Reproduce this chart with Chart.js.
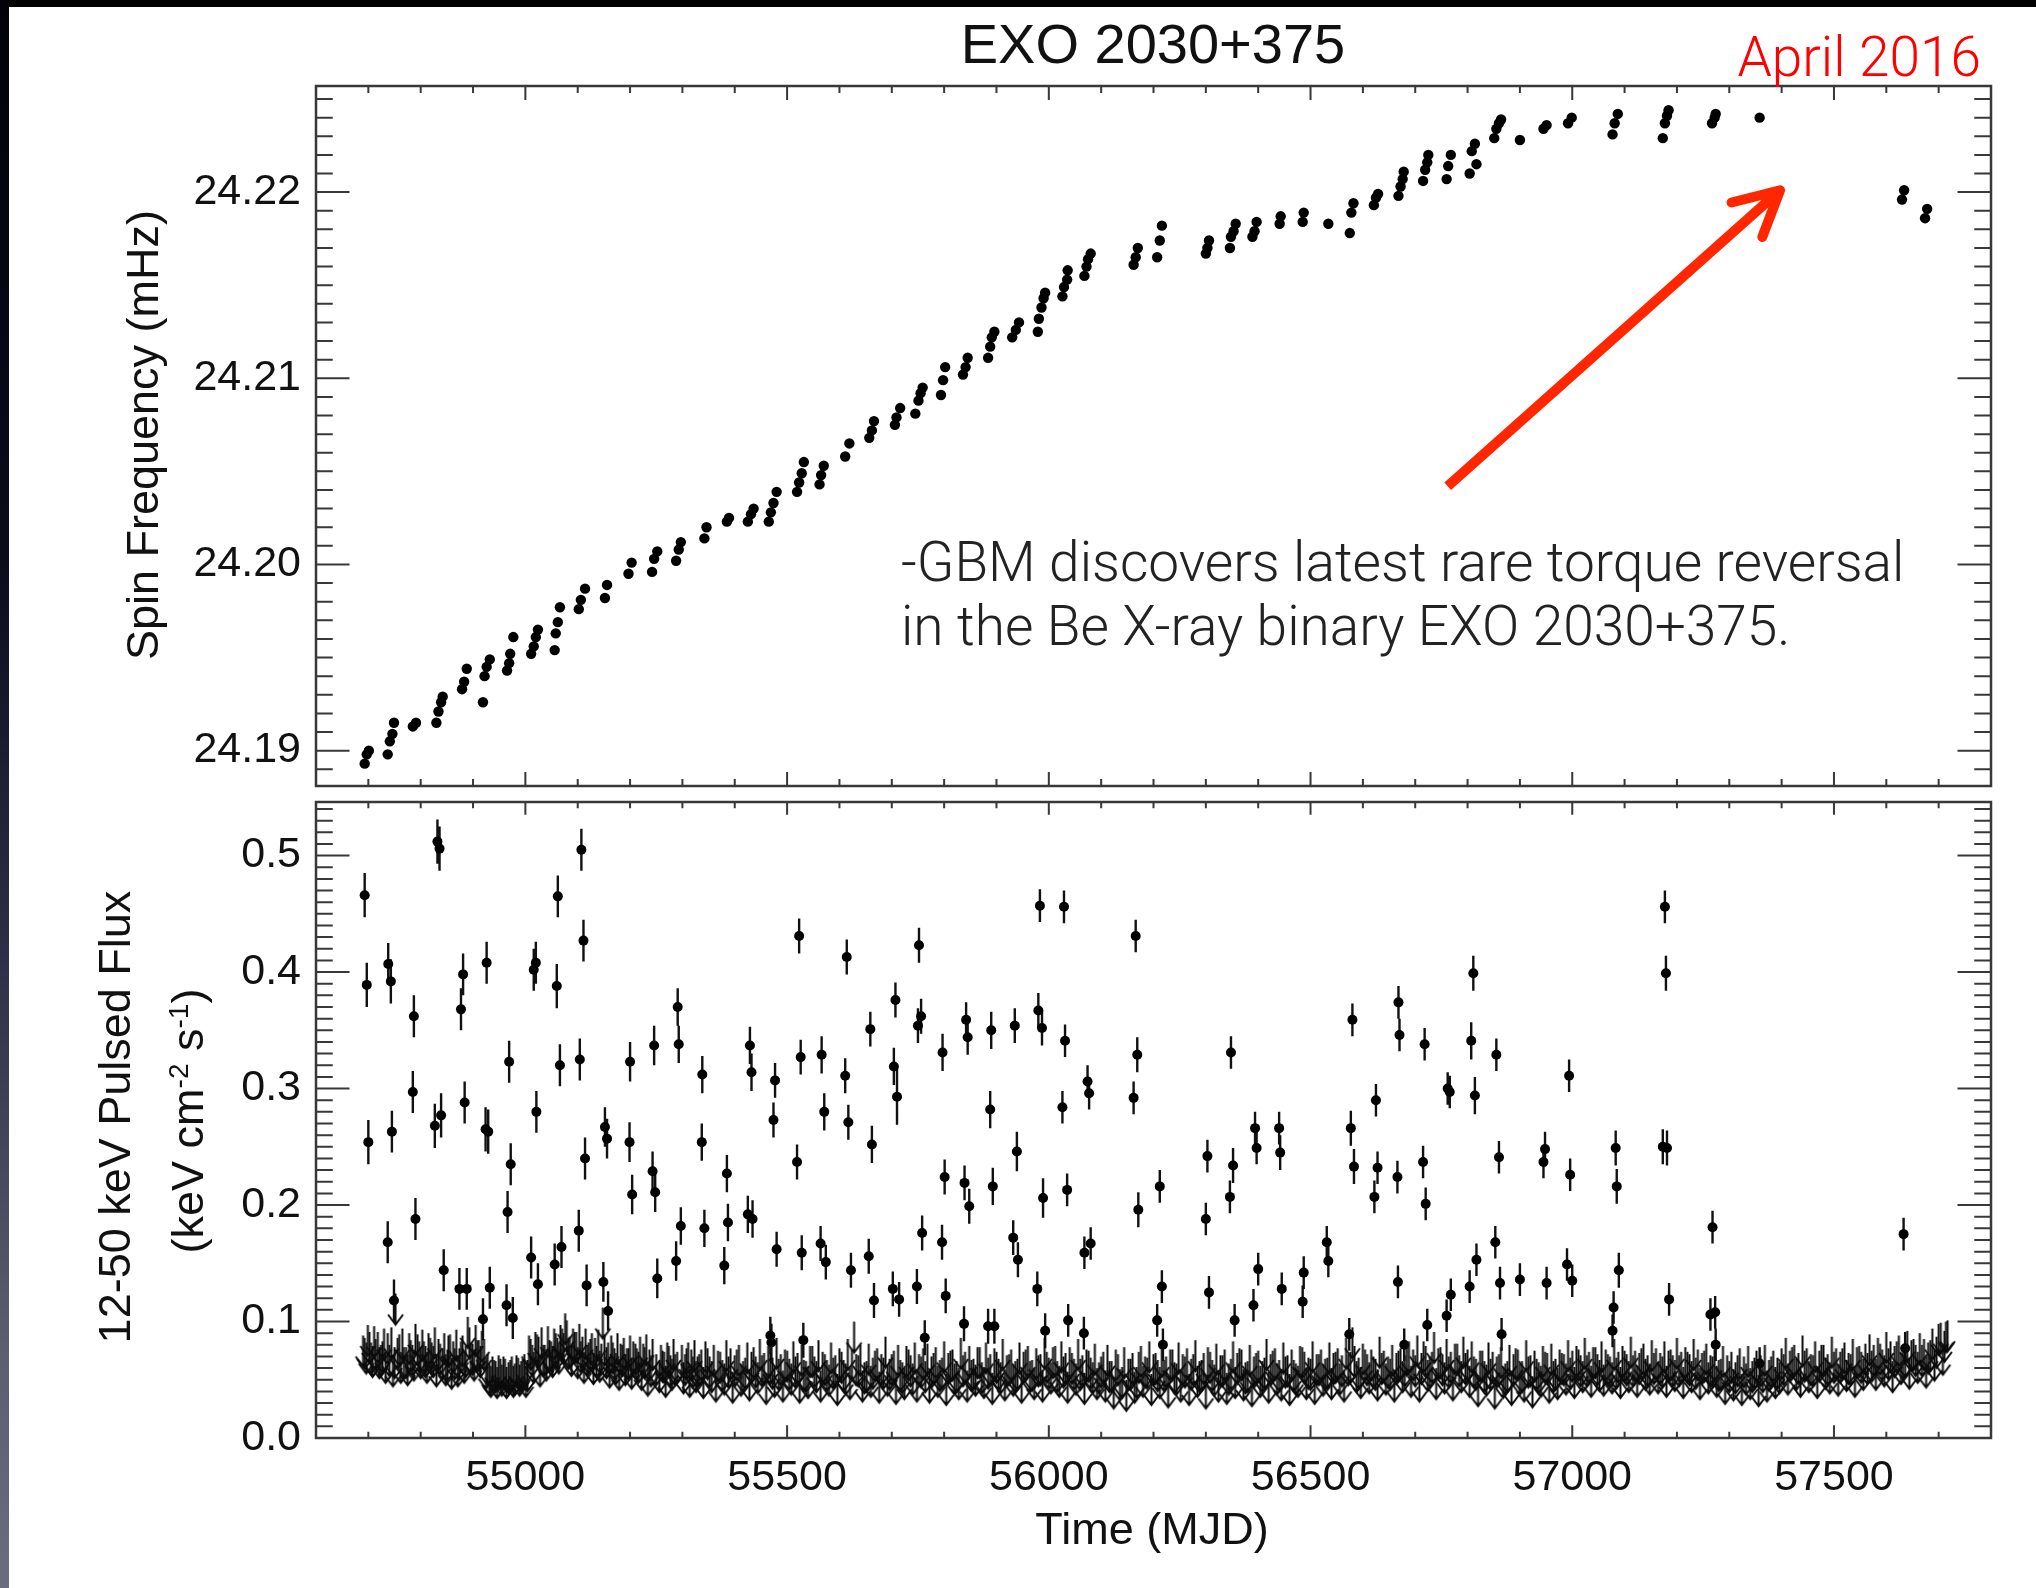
<!DOCTYPE html>
<html>
<head>
<meta charset="utf-8">
<script src="https://cdn.jsdelivr.net/npm/chart.js@4.4.0/dist/chart.umd.min.js"></script>
<style>
  html, body { margin: 0; padding: 0; }
  body { width: 2036px; height: 1588px; background: #000; position: relative; overflow: hidden; }
  #edge { position: absolute; left: 0; top: 0; width: 9px; height: 1588px;
          background: linear-gradient(to bottom, #020208 0%, #0b0b1c 35%, #2e2e48 60%, #5c5c72 85%, #6c6c80 100%); }
  #sheet { position: absolute; left: 9px; top: 7px; right: 0; bottom: 0; background: #fff; }
  canvas { position: absolute; left: 0; }
  #spin { top: 0; }
  #flux { top: 790px; }
  #labels { position: absolute; left: 0; top: 0; pointer-events: none; }
</style>
</head>
<body>
<div id="edge"></div>
<div id="sheet"></div>
<canvas id="spin" width="2036" height="800"></canvas>
<canvas id="flux" width="2036" height="798"></canvas>
<svg id="labels" width="2036" height="1588" font-family="'Liberation Sans', Arial, Helvetica, sans-serif">
  <text x="1153" y="63" font-size="56" text-anchor="middle" fill="#111">EXO 2030+375</text>
  <text x="1981" y="76" font-size="55" text-anchor="end" fill="#ff0000" font-family="Roboto, Lato, sans-serif" font-weight="300">April 2016</text>
  <text x="901" y="581" font-size="55" fill="#222" font-family="Roboto, Lato, sans-serif" font-weight="300">-GBM discovers latest rare torque reversal</text>
  <text x="901" y="645" font-size="55" fill="#222" font-family="Roboto, Lato, sans-serif" font-weight="300">in the Be X-ray binary EXO 2030+375.</text>
  <text transform="translate(158,435) rotate(-90)" font-size="45" text-anchor="middle" fill="#111">Spin Frequency (mHz)</text>
  <text transform="translate(130,1117) rotate(-90)" font-size="45" text-anchor="middle" fill="#111">12-50 keV Pulsed Flux</text>
  <text transform="translate(203,1121) rotate(-90)" font-size="45" text-anchor="middle" fill="#111">(keV cm<tspan baseline-shift="super" font-size="28">-2</tspan> s<tspan baseline-shift="super" font-size="28">-1</tspan>)</text>
  <text x="1152" y="1544" font-size="45" text-anchor="middle" fill="#111">Time (MJD)</text>
</svg>
<script>
// spin frequency history [MJD, mHz]
const spinPoints = [
  [54693,24.1893],[54697,24.1898],[54701,24.1900],
  [54737,24.1898],[54741,24.1905],[54746,24.1909],[54749,24.1915],
  [54785,24.1913],[54791,24.1915],
  [54830,24.1915],[54834,24.1921],[54839,24.1926],[54842,24.1929],
  [54879,24.1933],[54883,24.1937],[54888,24.1944],
  [54919,24.1926],[54922,24.1940],[54926,24.1945],[54932,24.1949],
  [54965,24.1943],[54969,24.1947],[54971,24.1952],[54977,24.1961],
  [55011,24.1952],[55016,24.1956],[55020,24.1961],[55024,24.1965],
  [55056,24.1954],[55058,24.1963],[55062,24.1969],[55066,24.1977],
  [55102,24.1976],[55106,24.1981],[55114,24.1987],
  [55152,24.1982],[55156,24.1989],
  [55197,24.1995],[55203,24.2001],
  [55242,24.1996],[55246,24.2003],[55252,24.2007],
  [55288,24.2002],[55293,24.2008],[55297,24.2012],
  [55342,24.2014],[55346,24.2020],
  [55385,24.2023],[55389,24.2025],
  [55425,24.2023],[55431,24.2027],[55436,24.2030],
  [55465,24.2023],[55469,24.2028],[55474,24.2033],[55480,24.2039],
  [55519,24.2039],[55523,24.2044],[55528,24.2049],[55532,24.2055],
  [55562,24.2043],[55565,24.2048],[55570,24.2053],
  [55611,24.2058],[55619,24.2065],
  [55657,24.2068],[55662,24.2072],[55666,24.2077],
  [55706,24.2075],[55709,24.2079],[55716,24.2084],
  [55745,24.2081],[55751,24.2088],[55755,24.2092],[55759,24.2095],
  [55794,24.2091],[55798,24.2099],[55802,24.2106],
  [55836,24.2102],[55841,24.2106],[55845,24.2111],
  [55884,24.2111],[55888,24.2117],[55891,24.2122],[55896,24.2125],
  [55930,24.2122],[55937,24.2126],[55943,24.2130],
  [55979,24.2125],[55981,24.2132],[55986,24.2138],[55990,24.2143],[55993,24.2146],
  [56026,24.2144],[56029,24.2149],[56035,24.2153],[56036,24.2158],
  [56068,24.2155],[56072,24.2160],[56075,24.2164],[56080,24.2167],
  [56162,24.2161],[56166,24.2165],[56170,24.2170],
  [56207,24.2165],[56212,24.2174],[56216,24.2182],
  [56300,24.2167],[56303,24.2170],[56306,24.2174],
  [56346,24.2170],[56348,24.2176],[56353,24.2179],[56357,24.2183],
  [56389,24.2176],[56393,24.2179],[56397,24.2184],
  [56441,24.2183],[56443,24.2187],
  [56485,24.2184],[56487,24.2189],
  [56534,24.2183],
  [56575,24.2178],[56578,24.2189],[56582,24.2194],
  [56621,24.2193],[56625,24.2197],[56629,24.2199],
  [56668,24.2198],[56672,24.2203],[56676,24.2207],[56678,24.2211],
  [56715,24.2206],[56719,24.2212],[56723,24.2216],[56725,24.2220],
  [56760,24.2207],[56763,24.2214],[56768,24.2220],
  [56804,24.2210],[56808,24.2222],[56814,24.2226],[56817,24.2215],
  [56851,24.2229],[56855,24.2234],[56860,24.2237],[56864,24.2239],
  [56900,24.2228],
  [56945,24.2234],[56951,24.2236],
  [56992,24.2237],[56999,24.2240],
  [57077,24.2231],[57081,24.2237],[57087,24.2242],
  [57173,24.2229],[57177,24.2237],[57181,24.2241],[57184,24.2244],
  [57267,24.2237],[57272,24.2240],[57274,24.2242],
  [57358,24.2240],
  [57630,24.2196],[57634,24.2201],
  [57674,24.2186],[57678,24.2191]
];

// pulsed flux detections [MJD, flux, 1-sigma error]
const fluxPoints = [
  [54693,0.466,0.019],[54697,0.389,0.019],[54700,0.254,0.019],
  [54737,0.168,0.018],[54738,0.407,0.018],[54743,0.392,0.019],[54745,0.263,0.018],[54749,0.118,0.018],
  [54785,0.297,0.018],[54787,0.362,0.018],[54790,0.188,0.018],
  [54827,0.268,0.019],[54832,0.512,0.019],[54836,0.506,0.019],[54839,0.277,0.019],[54844,0.144,0.018],
  [54874,0.128,0.018],[54877,0.368,0.018],[54881,0.398,0.018],[54884,0.288,0.018],[54888,0.128,0.018],
  [54919,0.102,0.018],[54924,0.265,0.019],[54926,0.408,0.018],[54929,0.263,0.019],[54932,0.129,0.018],
  [54964,0.114,0.018],[54966,0.194,0.018],[54969,0.323,0.018],[54972,0.235,0.018],[54976,0.103,0.018],
  [55011,0.155,0.018],[55016,0.402,0.018],[55020,0.408,0.018],[55021,0.280,0.018],[55024,0.132,0.018],
  [55056,0.149,0.018],[55060,0.388,0.019],[55062,0.465,0.018],[55066,0.320,0.018],[55069,0.164,0.018],
  [55102,0.178,0.018],[55104,0.325,0.018],[55107,0.505,0.018],[55111,0.427,0.018],[55114,0.240,0.018],[55117,0.131,0.018],
  [55149,0.134,0.017],[55152,0.267,0.017],[55156,0.257,0.017],[55158,0.109,0.017],
  [55199,0.254,0.017],[55200,0.323,0.017],[55204,0.209,0.017],
  [55243,0.229,0.017],[55246,0.337,0.017],[55248,0.211,0.017],[55252,0.137,0.017],
  [55288,0.152,0.017],[55291,0.370,0.016],[55293,0.338,0.016],[55297,0.182,0.016],
  [55337,0.254,0.016],[55338,0.312,0.016],[55342,0.180,0.016],
  [55380,0.148,0.016],[55385,0.227,0.016],[55387,0.185,0.016],
  [55425,0.192,0.016],[55429,0.337,0.016],[55432,0.314,0.016],[55434,0.188,0.016],
  [55468,0.088,0.016],[55470,0.082,0.016],[55474,0.273,0.015],[55477,0.307,0.015],[55480,0.162,0.015],
  [55519,0.237,0.015],[55523,0.431,0.015],[55526,0.327,0.015],[55528,0.159,0.015],[55531,0.084,0.015],
  [55564,0.167,0.015],[55566,0.329,0.016],[55571,0.280,0.016],[55574,0.151,0.015],
  [55611,0.311,0.015],[55614,0.413,0.015],[55617,0.271,0.015],[55622,0.144,0.015],
  [55656,0.156,0.015],[55659,0.351,0.015],[55662,0.252,0.016],[55666,0.118,0.015],
  [55702,0.128,0.015],[55704,0.319,0.016],[55707,0.376,0.015],[55710,0.293,0.024],[55714,0.119,0.015],
  [55748,0.130,0.015],[55750,0.354,0.015],[55752,0.423,0.015],[55756,0.362,0.015],[55758,0.176,0.015],[55763,0.086,0.015],
  [55796,0.168,0.015],[55797,0.331,0.016],[55801,0.224,0.015],[55803,0.122,0.015],
  [55838,0.098,0.015],[55839,0.219,0.015],[55842,0.359,0.015],[55845,0.344,0.015],[55848,0.199,0.015],
  [55884,0.096,0.015],[55888,0.282,0.016],[55890,0.350,0.016],[55893,0.216,0.016],[55896,0.096,0.015],
  [55932,0.172,0.015],[55935,0.354,0.015],[55939,0.246,0.017],[55941,0.153,0.015],
  [55978,0.128,0.015],[55980,0.367,0.015],[55983,0.457,0.014],[55987,0.352,0.015],[55989,0.206,0.017],[55993,0.092,0.015],
  [56026,0.284,0.014],[56029,0.456,0.014],[56031,0.341,0.014],[56035,0.213,0.014],[56037,0.101,0.014],
  [56067,0.090,0.014],[56068,0.159,0.014],[56074,0.306,0.014],[56077,0.296,0.014],[56080,0.167,0.014],
  [56162,0.292,0.014],[56166,0.431,0.014],[56169,0.329,0.015],[56171,0.196,0.015],
  [56207,0.101,0.014],[56212,0.216,0.014],[56216,0.130,0.014],[56218,0.080,0.014],
  [56300,0.188,0.014],[56303,0.242,0.014],[56306,0.125,0.014],
  [56346,0.207,0.014],[56348,0.331,0.014],[56352,0.234,0.015],[56355,0.101,0.014],
  [56391,0.114,0.014],[56394,0.266,0.014],[56397,0.249,0.014],[56400,0.145,0.014],
  [56440,0.266,0.014],[56442,0.245,0.015],[56445,0.128,0.014],
  [56485,0.117,0.014],[56487,0.142,0.014],
  [56531,0.168,0.014],[56534,0.152,0.014],
  [56574,0.089,0.014],[56577,0.266,0.015],[56580,0.359,0.014],[56583,0.233,0.015],
  [56622,0.207,0.014],[56625,0.290,0.014],[56628,0.232,0.014],
  [56666,0.224,0.014],[56667,0.134,0.014],[56668,0.374,0.014],[56670,0.346,0.014],[56679,0.080,0.014],
  [56715,0.237,0.014],[56718,0.338,0.014],[56720,0.201,0.014],[56723,0.097,0.014],
  [56760,0.105,0.014],[56762,0.300,0.014],[56766,0.297,0.014],[56768,0.123,0.014],
  [56804,0.130,0.014],[56807,0.341,0.016],[56811,0.399,0.015],[56814,0.294,0.016],[56817,0.153,0.014],
  [56853,0.168,0.014],[56855,0.329,0.014],[56860,0.241,0.014],[56862,0.133,0.014],[56865,0.089,0.014],
  [56900,0.136,0.014],
  [56945,0.237,0.014],[56948,0.248,0.015],[56951,0.133,0.014],
  [56990,0.149,0.014],[56994,0.311,0.014],[56996,0.226,0.014],[57000,0.135,0.014],
  [57077,0.092,0.014],[57079,0.112,0.014],[57083,0.249,0.015],[57085,0.216,0.015],[57089,0.144,0.015],
  [57173,0.250,0.015],[57177,0.456,0.014],[57179,0.399,0.015],[57181,0.249,0.015],[57185,0.119,0.014],
  [57264,0.106,0.014],[57268,0.181,0.014],[57273,0.108,0.014],[57274,0.080,0.014],
  [57358,0.064,0.014],
  [57633,0.175,0.014],[57636,0.077,0.014]
];

// 12-50 keV pulsed flux upper limits [MJD, limit]
const limitPoints = [
  [54690,.088],[54696,.082],[54702,.091],[54708,.079],[54714,.085],[54721,.078],[54727,.083],[54733,.074],
  [54740,.080],[54747,.071],[54752,.124],[54756,.086],[54762,.074],[54768,.078],[54775,.072],[54781,.084],[54787,.076],
  [54794,.089],[54800,.078],[54806,.083],[54812,.074],[54818,.086],[54824,.079],[54830,.071],[54837,.081],
  [54848,.072],[54853,.088],[54859,.069],[54865,.077],[54871,.071],[54877,.083],[54883,.074],[54890,.104],
  [54896,.082],[54902,.076],[54908,.084],[54914,.079],
  [54925,.069],[54931,.064],[54937,.070],[54943,.066],[54949,.071],[54955,.063],[54961,.068],[54968,.065],
  [54974,.070],[54980,.064],[54986,.069],[54992,.066],[54998,.072],[55004,.067],
  [55010,.085],[55016,.074],[55022,.089],[55028,.071],[55034,.080],[55040,.076],[55046,.084],
  [55052,.079],[55058,.090],[55064,.082],[55070,.094],[55076,.107],[55082,.086],[55088,.080],[55094,.091],[55100,.078],
  [55106,.083],[55112,.074],[55118,.080],[55124,.085],[55130,.073],[55136,.079],[55142,.075],[55148,.112],
  [55155,.078],[55161,.070],[55167,.082],[55173,.073],[55179,.068],[55185,.080],[55191,.072],[55197,.077],[55203,.069],
  [55210,.081],[55216,.074],[55222,.068],[55228,.078],[55234,.063],[55240,.071],[55256,.066],[55262,.075],
  [55268,.062],[55274,.079],[55280,.068],[55286,.072],[55302,.065],[55308,.077],[55314,.062],[55320,.070],[55326,.066],
  [55332,.072],[55340,.061],[55348,.077],[55356,.066],[55364,.058],[55372,.074],[55380,.064],[55388,.070],
  [55396,.057],[55404,.076],[55412,.063],[55420,.069],[55428,.059],[55436,.078],[55444,.065],[55452,.071],
  [55460,.056],[55468,.073],[55476,.062],[55484,.068],[55492,.058],[55500,.075],[55508,.064],[55516,.070],
  [55524,.057],[55532,.067],[55540,.061],[55548,.079],[55556,.066],[55564,.058],[55572,.072],[55580,.063],
  [55588,.069],[55596,.055],[55604,.074],[55612,.064],[55620,.060],[55628,.100],[55636,.071],[55644,.058],
  [55652,.066],[55660,.062],[55668,.075],[55676,.057],[55684,.069],[55692,.063],[55700,.072],[55708,.056],
  [55716,.067],[55724,.060],[55732,.076],[55740,.064],[55748,.058],[55756,.070],
  [55764,.066],[55772,.057],[55780,.073],[55788,.062],[55796,.069],[55804,.055],[55812,.075],[55820,.064],
  [55828,.060],[55836,.071],[55844,.058],[55852,.067],[55860,.063],[55868,.078],[55876,.061],[55884,.069],
  [55892,.056],[55900,.074],[55908,.065],[55916,.059],[55924,.072],[55932,.063],[55940,.068],[55948,.057],
  [55956,.076],[55964,.066],[55972,.060],[55980,.071],[55988,.058],[55996,.074],[56004,.065],[56012,.079],
  [56020,.062],[56028,.070],[56036,.057],[56044,.073],[56052,.064],[56060,.068],[56068,.056],[56076,.075],
  [56084,.065],[56092,.060],
  [56100,.070],[56108,.058],[56116,.066],[56124,.052],[56132,.072],[56140,.061],[56148,.050],[56156,.068],
  [56164,.057],[56172,.074],[56180,.062],
  [56188,.069],[56196,.055],[56204,.073],[56212,.061],[56220,.067],[56228,.053],[56236,.076],[56244,.064],
  [56252,.058],[56260,.070],[56268,.055],[56276,.072],[56284,.062],[56292,.067],[56300,.052],[56308,.074],
  [56316,.063],[56324,.058],[56332,.071],[56340,.056],[56348,.068],[56356,.061],[56364,.077],[56372,.059],
  [56380,.066],[56388,.054],[56396,.073],[56404,.062],[56412,.069],[56420,.057],[56428,.075],[56436,.064],
  [56444,.059],[56452,.070],[56460,.055],[56468,.067],[56476,.062],[56484,.078],[56492,.060],[56500,.068],
  [56508,.056],[56516,.072],[56524,.063],
  [56532,.069],[56540,.060],[56548,.074],[56556,.064],[56564,.058],[56572,.072],[56580,.095],[56588,.066],
  [56596,.061],[56604,.076],[56612,.065],[56620,.070],[56628,.059],[56636,.073],[56644,.064],[56652,.068],
  [56660,.058],[56668,.075],
  [56676,.066],[56684,.080],[56692,.062],[56700,.071],[56708,.058],[56716,.083],[56724,.067],[56732,.074],
  [56740,.060],[56748,.078],[56756,.065],[56764,.070],[56772,.059],[56780,.081],[56788,.066],[56796,.073],
  [56804,.062],[56812,.070],[56820,.054],[56828,.075],[56836,.063],[56844,.068],[56852,.052],[56860,.072],
  [56868,.061],[56876,.066],[56884,.055],[56892,.077],[56900,.064],[56908,.058],[56916,.070],[56924,.053],
  [56932,.068],[56940,.062],[56948,.074],[56956,.057],[56964,.066],[56972,.060],
  [56980,.073],[56988,.064],[56996,.069],[57004,.061],[57012,.076],[57020,.066],[57028,.071],[57036,.062],
  [57044,.078],[57052,.067],[57060,.063],[57068,.072],[57076,.065],[57084,.069],[57092,.061],[57100,.075],
  [57108,.066],[57116,.071],[57124,.062],[57132,.077],[57140,.068],[57148,.064],[57156,.073],[57164,.065],
  [57172,.070],[57180,.062],[57188,.076],[57196,.067],[57204,.071],[57212,.061],[57220,.074],[57228,.066],
  [57236,.069],[57244,.060],[57252,.075],[57260,.065],[57268,.070],
  [57276,.062],[57284,.068],[57292,.056],[57300,.066],[57308,.059],[57316,.071],[57324,.055],[57332,.064],
  [57340,.060],[57348,.069],[57356,.054],[57364,.066],[57372,.058],[57380,.070],[57388,.061],[57396,.065],
  [57404,.072],[57412,.064],[57420,.078],[57428,.068],[57436,.062],[57444,.075],[57452,.066],[57460,.071],
  [57468,.061],[57476,.080],[57484,.069],[57492,.065],[57500,.074],[57508,.063],[57516,.077],[57524,.067],
  [57532,.072],[57540,.062],[57548,.079],[57556,.068],[57564,.073],
  [57572,.075],[57580,.068],[57588,.081],[57596,.071],[57604,.077],[57612,.066],[57620,.083],[57628,.073],
  [57636,.079],[57644,.069],[57652,.085],[57660,.074],[57668,.080],[57676,.070],[57684,.084],[57692,.076],
  [57700,.098],[57708,.081],[57714,.100],
  // interleaved observations
  [54693,.086],[54699,.097],[54705,.082],[54711,.096],[54718,.091],[54724,.080],[54730,.094],[54737,.090],
  [54744,.095],[54750,.078],[54759,.089],[54765,.094],[54772,.078],[54778,.090],[54784,.080],[54790,.098],
  [54797,.083],[54803,.093],[54809,.079],[54815,.090],[54821,.082],[54827,.095],[54834,.085],[54842,.077],
  [54845,.090],[54851,.076],[54856,.089],[54862,.083],[54868,.093],[54874,.077],[54880,.088],[54886,.079],
  [54893,.095],[54899,.081],[54905,.097],[54911,.084],[54917,.092],[54921,.085],
  [54928,.072],[54934,.062],[54940,.067],[54946,.061],[54952,.068],[54958,.070],[54964,.061],[54971,.067],
  [54977,.062],[54983,.071],[54989,.063],[54995,.068],[55001,.062],[55007,.088],
  [55013,.080],[55019,.091],[55025,.087],[55031,.095],[55037,.080],[55043,.096],[55049,.083],
  [55055,.094],[55061,.086],[55067,.097],[55073,.090],[55079,.101],[55085,.087],[55091,.094],[55097,.091],[55103,.098],
  [55109,.087],[55115,.094],[55121,.082],[55127,.090],[55133,.086],[55139,.093],[55145,.081],[55151,.089],
  [55158,.082],[55164,.088],[55170,.077],[55176,.090],[55182,.081],[55188,.086],[55194,.077],[55200,.088],[55206,.083],
  [55213,.077],[55219,.087],[55225,.081],[55231,.089],[55237,.076],[55243,.085],[55250,.072],[55259,.080],
  [55265,.074],[55271,.082],[55277,.071],[55283,.085],[55290,.074],[55299,.080],[55305,.072],[55311,.082],
  [55317,.076],[55323,.084],[55329,.070],
  [55336,.076],[55344,.083],[55352,.070],[55360,.080],[55368,.075],[55376,.067],[55384,.084],[55392,.077],
  [55400,.071],[55408,.080],[55416,.066],[55424,.082],[55432,.074],[55440,.070],[55448,.085],[55456,.073],
  [55464,.079],[55472,.069],[55480,.086],[55488,.072],[55496,.076],[55504,.068],[55512,.083],[55520,.073],
  [55528,.080],[55536,.066],[55544,.079],[55552,.070],[55560,.084],[55568,.074],[55576,.067],[55584,.082],
  [55592,.071],[55600,.077],[55608,.067],[55616,.085],[55624,.076],[55632,.072],[55640,.080],[55648,.065],
  [55656,.081],[55664,.069],[55672,.077],[55680,.072],[55688,.087],[55696,.068],[55704,.075],[55712,.080],
  [55720,.065],[55728,.079],[55736,.071],[55744,.082],[55752,.072],[55760,.077],
  [55768,.081],[55776,.070],[55784,.078],[55792,.067],[55800,.083],[55808,.073],[55816,.076],[55824,.066],
  [55832,.086],[55840,.074],[55848,.079],[55856,.068],[55864,.078],[55872,.065],[55880,.082],[55888,.072],
  [55896,.077],[55904,.068],[55912,.085],[55920,.071],[55928,.076],[55936,.066],[55944,.082],[55952,.074],
  [55960,.079],[55968,.067],[55976,.077],[55984,.072],[55992,.086],[56000,.069],[56008,.078],[56016,.066],
  [56024,.083],[56032,.073],[56040,.078],[56048,.068],[56056,.085],[56064,.071],[56072,.076],[56080,.069],
  [56088,.081],[56096,.065],
  [56104,.074],[56112,.080],[56120,.066],[56128,.076],[56136,.059],[56144,.078],[56152,.068],[56160,.073],
  [56168,.061],[56176,.079],[56184,.070],
  [56192,.083],[56200,.072],[56208,.067],[56216,.079],[56224,.070],[56232,.076],[56240,.065],[56248,.082],
  [56256,.072],[56264,.077],[56272,.068],[56280,.084],[56288,.066],[56296,.073],[56304,.078],[56312,.067],
  [56320,.081],[56328,.071],[56336,.076],[56344,.064],[56352,.083],[56360,.073],[56368,.076],[56376,.065],
  [56384,.080],[56392,.070],[56400,.075],[56408,.066],[56416,.085],[56424,.072],[56432,.077],[56440,.067],
  [56448,.082],[56456,.071],[56464,.076],[56472,.064],[56480,.079],[56488,.074],[56496,.069],[56504,.083],
  [56512,.072],[56520,.076],[56528,.068],
  [56536,.082],[56544,.073],[56552,.077],[56560,.071],[56568,.086],[56576,.074],[56584,.079],[56592,.069],
  [56600,.081],[56608,.072],[56616,.076],[56624,.068],[56632,.087],[56640,.075],[56648,.070],[56656,.080],
  [56664,.073],[56672,.077],
  [56680,.071],[56688,.083],[56696,.076],[56704,.088],[56712,.073],[56720,.079],[56728,.070],[56736,.091],
  [56744,.077],[56752,.072],[56760,.085],[56768,.074],[56776,.081],[56784,.071],[56792,.087],[56800,.076],
  [56808,.083],[56816,.068],[56824,.075],[56832,.066],[56840,.082],[56848,.074],[56856,.070],[56864,.078],
  [56872,.064],[56880,.080],[56888,.072],[56896,.076],[56904,.066],[56912,.084],[56920,.071],[56928,.075],
  [56936,.065],[56944,.079],[56952,.073],[56960,.081],[56968,.068],[56976,.076],
  [56984,.072],[56992,.084],[57000,.075],[57008,.079],[57016,.071],[57024,.086],[57032,.074],[57040,.078],
  [57048,.072],[57056,.083],[57064,.076],[57072,.070],[57080,.085],[57088,.074],[57096,.079],[57104,.072],
  [57112,.087],[57120,.075],[57128,.073],[57136,.081],[57144,.071],[57152,.084],[57160,.077],[57168,.073],
  [57176,.083],[57184,.075],[57192,.071],[57200,.086],[57208,.074],[57216,.078],[57224,.072],[57232,.085],
  [57240,.076],[57248,.073],[57256,.081],[57264,.071],
  [57272,.076],[57280,.067],[57288,.079],[57296,.071],[57304,.074],[57312,.065],[57320,.077],[57328,.070],
  [57336,.079],[57344,.066],[57352,.075],[57360,.071],[57368,.080],[57376,.067],[57384,.075],[57392,.069],[57400,.077],
  [57408,.086],[57416,.075],[57424,.080],[57432,.073],[57440,.088],[57448,.077],[57456,.072],[57464,.083],
  [57472,.075],[57480,.080],[57488,.072],[57496,.087],[57504,.077],[57512,.074],[57520,.082],[57528,.073],
  [57536,.085],[57544,.078],[57552,.074],[57560,.081],[57568,.089],
  [57576,.080],[57584,.086],[57592,.076],[57600,.091],[57608,.083],[57616,.079],[57624,.088],[57632,.077],
  [57640,.092],[57648,.084],[57656,.080],[57664,.090],[57672,.085],[57680,.082],[57688,.094],[57696,.087],
  [57704,.099],[57711,.092],[57717,.101]
];

const mjdRange = [54600, 57800];
const mjdTicks = [55000, 55500, 56000, 56500, 57000, 57500];
const spinRange = [24.1881, 24.2257];
const spinTicks = [24.19, 24.20, 24.21, 24.22];
const fluxRange = [0, 0.546];
const fluxTicks = [0, 0.1, 0.2, 0.3, 0.4, 0.5];

// torque-reversal pointer, in data units (tail -> tip)
const pointerFrom = [56762, 24.2042];
const pointerTo = [57397, 24.2201];

const FONT = "'Liberation Sans', Arial, Helvetica, sans-serif";

// downward arrow used as the upper-limit marker; the image centre sits on the limit value
function limitArrow() {
  const len = 31, half = 7.5, head = 10;
  const c = document.createElement('canvas');
  c.width = 2 * half + 4;
  c.height = 2 * (len + 3);
  const g = c.getContext('2d');
  const cx = c.width / 2, cy = c.height / 2;
  g.strokeStyle = '#0c0c0c';
  g.lineWidth = 2;
  g.beginPath();
  g.moveTo(cx, cy);
  g.lineTo(cx, cy + len);
  g.moveTo(cx - half, cy + len - head);
  g.lineTo(cx, cy + len);
  g.lineTo(cx + half, cy + len - head);
  g.stroke();
  return c;
}

// box frame with inward ticks on all four sides
const frameTicks = {
  id: 'frameTicks',
  afterDatasetsDraw(chart, args, opts) {
    const { ctx, chartArea: a, scales: { x, y } } = chart;
    ctx.save();
    ctx.strokeStyle = '#383838';
    ctx.lineWidth = 2;
    ctx.beginPath();
    const xl = a.height * 0.02;
    for (let m = 54700; m <= 57700; m += 100) {
      const px = x.getPixelForValue(m);
      const len = m % 500 === 0 ? xl : xl / 2;
      ctx.moveTo(px, a.bottom); ctx.lineTo(px, a.bottom - len);
      ctx.moveTo(px, a.top); ctx.lineTo(px, a.top + len);
    }
    const yl = a.width * 0.02;
    const k0 = Math.ceil(y.min / opts.minor - 1e-6), k1 = Math.floor(y.max / opts.minor + 1e-6);
    for (let k = k0; k <= k1; k++) {
      const py = y.getPixelForValue(k * opts.minor);
      const len = k % opts.per === 0 ? yl : yl / 2;
      ctx.moveTo(a.left, py); ctx.lineTo(a.left + len, py);
      ctx.moveTo(a.right, py); ctx.lineTo(a.right - len, py);
    }
    ctx.stroke();
    ctx.lineWidth = 2.5;
    ctx.strokeRect(a.left, a.top, a.width, a.height);
    ctx.restore();
  }
};

// vertical 1-sigma bars under the flux detections
const errorBars = {
  id: 'errorBars',
  beforeDatasetsDraw(chart) {
    const { ctx, scales: { x, y } } = chart;
    ctx.save();
    ctx.strokeStyle = '#111';
    ctx.lineWidth = 2.4;
    ctx.beginPath();
    fluxPoints.forEach(p => {
      const px = x.getPixelForValue(p[0]);
      ctx.moveTo(px, y.getPixelForValue(p[1] + p[2]));
      ctx.lineTo(px, y.getPixelForValue(p[1] - p[2]));
    });
    ctx.stroke();
    ctx.restore();
  }
};

// red arrow pointing at the gap before the reversal
const pointer = {
  id: 'pointer',
  afterDraw(chart) {
    const { ctx, scales: { x, y } } = chart;
    const x0 = x.getPixelForValue(pointerFrom[0]), y0 = y.getPixelForValue(pointerFrom[1]);
    const x1 = x.getPixelForValue(pointerTo[0]), y1 = y.getPixelForValue(pointerTo[1]);
    const ang = Math.atan2(y0 - y1, x0 - x1);
    const wing = 50, spread = 0.48;
    ctx.save();
    ctx.strokeStyle = '#ff2600';
    ctx.lineWidth = 10;
    ctx.lineCap = 'butt';
    ctx.beginPath();
    ctx.moveTo(x0, y0);
    ctx.lineTo(x1, y1);
    ctx.stroke();
    ctx.lineCap = 'round';
    ctx.lineJoin = 'round';
    ctx.beginPath();
    ctx.moveTo(x1 + wing * Math.cos(ang + spread), y1 + wing * Math.sin(ang + spread));
    ctx.lineTo(x1, y1);
    ctx.lineTo(x1 + wing * Math.cos(ang - spread), y1 + wing * Math.sin(ang - spread));
    ctx.stroke();
    ctx.restore();
  }
};

function yAxis(range, ticks, digits) {
  return {
    min: range[0],
    max: range[1],
    grid: { display: false, drawTicks: false },
    border: { display: false },
    ticks: {
      padding: 15,
      color: '#111',
      font: { family: FONT, size: 43 },
      callback: v => Number(v).toFixed(digits)
    },
    afterBuildTicks(s) { s.ticks = ticks.map(v => ({ value: v })); },
    afterFit(s) { s.width = 316; s.paddingTop = 0; s.paddingBottom = 0; }
  };
}

const common = {
  responsive: false,
  animation: false,
  events: [],
  plugins: { legend: { display: false }, tooltip: { enabled: false } }
};

new Chart(document.getElementById('spin'), {
  type: 'scatter',
  data: {
    datasets: [{
      data: spinPoints.map(p => ({ x: p[0], y: p[1] })),
      pointRadius: 5.2,
      pointBackgroundColor: '#000',
      pointBorderWidth: 0
    }]
  },
  options: {
    ...common,
    layout: { padding: { left: 0, right: 45, top: 86, bottom: 14 } },
    scales: {
      x: { type: 'linear', display: false, min: mjdRange[0], max: mjdRange[1] },
      y: yAxis(spinRange, spinTicks, 2)
    },
    plugins: { ...common.plugins, frameTicks: { minor: 0.001, per: 10 } }
  },
  plugins: [frameTicks, pointer]
});

const arrowImg = limitArrow();

new Chart(document.getElementById('flux'), {
  type: 'scatter',
  data: {
    datasets: [{
      data: limitPoints.map(p => ({ x: p[0], y: p[1] })),
      pointStyle: arrowImg,
      pointRadius: 5
    }, {
      data: fluxPoints.map(p => ({ x: p[0], y: p[1] })),
      pointRadius: 5,
      pointBackgroundColor: '#000',
      pointBorderWidth: 0
    }]
  },
  options: {
    ...common,
    layout: { padding: { left: 0, right: 45, top: 12, bottom: 0 } },
    scales: {
      x: {
        type: 'linear',
        min: mjdRange[0],
        max: mjdRange[1],
        grid: { display: false, drawTicks: false },
        border: { display: false },
        ticks: {
          autoSkip: false,
          maxRotation: 0,
          padding: 14,
          color: '#111',
          font: { family: FONT, size: 43 },
          callback: v => String(v)
        },
        afterBuildTicks(s) { s.ticks = mjdTicks.map(v => ({ value: v })); },
        afterFit(s) { s.height = 150; s.paddingLeft = 0; s.paddingRight = 0; }
      },
      y: yAxis(fluxRange, fluxTicks, 1)
    },
    plugins: { ...common.plugins, frameTicks: { minor: 0.01, per: 10 } }
  },
  plugins: [errorBars, frameTicks]
});
</script>
</body>
</html>
